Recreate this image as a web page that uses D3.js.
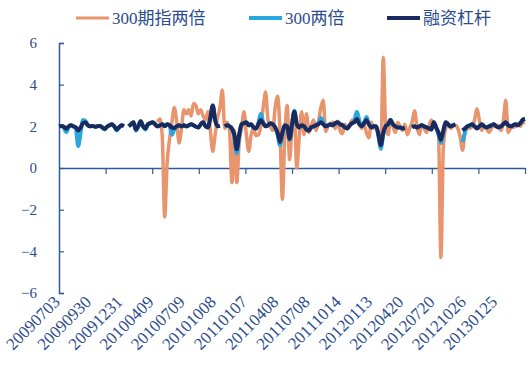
<!DOCTYPE html>
<html><head><meta charset="utf-8">
<script src="https://cdn.jsdelivr.net/npm/d3@7"></script>
<style>
html,body{margin:0;padding:0;background:#fff;}
svg{display:block;}
</style></head>
<body>
<svg id="chart" width="531" height="369"></svg>
<script>
// ---- data ----
const seriesNames = ["300期指两倍", "300两倍", "融资杠杆"];
const tickLabels = ["20090703","20090930","20091231","20100409","20100709","20101008","20110107","20110408","20110708","20111014","20120113","20120420","20120720","20121026","20130125"];
const yTicks = [-6, -4, -2, 0, 2, 4, 6];

const futures2x = [
null,null,null,null,null,null,null,null,null,null,null,null,null,
null,null,null,null,null,null,null,null,null,null,null,null,null,
null,null,null,null,null,null,null,null,null,null,null,null,null,
null,null,2.2,2.35,1.5,-2.35,0.2,1.35,2.2,2.9,2.2,1.2,1.9,
2.8,2.6,2.8,2.5,3.1,3.0,2.6,2.8,2.5,2.3,2.7,1.8,0.8,
1.6,2.4,2.9,3.75,1.9,2.2,1.8,-0.7,1.8,-0.7,1.2,1.9,2.7,
1.6,0.8,1.6,1.9,1.55,1.6,2.0,2.9,3.65,2.3,2.0,1.8,2.9,
3.45,1.8,-1.5,1.5,3.0,0.4,1.9,2.5,0.0,1.5,2.7,1.6,2.6,
1.7,2.0,2.3,1.8,2.2,2.9,3.25,1.75,2.0,2.1,2.2,1.9,2.25,
1.8,1.65,2.1,1.9,2.0,2.3,2.2,2.5,2.2,1.9,2.1,1.7,1.45,
2.2,1.9,2.0,1.6,0.9,5.3,2.0,1.6,2.3,2.0,1.7,2.2,2.0,
1.8,2.1,1.6,1.9,2.2,2.75,2.0,1.6,2.1,1.9,1.7,2.0,2.3,
2.1,1.9,1.6,-4.3,1.0,1.9,2.1,1.9,2.0,2.05,1.9,1.5,0.85,
1.7,2.0,1.9,2.0,2.3,2.85,2.3,1.8,2.0,1.9,1.7,1.9,2.1,
2.0,2.05,1.8,2.3,3.25,1.7,1.9,1.95,2.0,2.1,2.0,2.15,2.2
];

const etf2x = [
2.0,2.02,1.95,1.72,1.95,2.05,2.0,1.9,1.05,1.7,2.3,2.25,2.05,
2.0,2.02,1.98,2.0,2.02,1.95,1.85,1.98,2.05,2.1,2.0,1.8,1.95,
2.05,2.0,null,2.0,2.1,2.2,1.8,2.0,2.25,2.0,1.85,2.1,2.15,
2.2,2.1,2.0,2.05,2.1,2.0,2.1,2.05,1.6,1.85,2.0,2.05,2.0,
2.05,2.0,2.05,2.1,2.05,1.98,1.95,2.1,2.2,2.0,1.95,2.4,3.0,
2.3,2.0,2.02,null,2.0,2.05,2.0,1.85,1.5,0.7,1.5,2.1,2.15,
2.2,2.05,2.1,1.95,1.9,2.15,2.6,2.2,2.0,2.05,2.15,2.1,1.95,
1.6,1.1,1.6,2.05,2.0,1.35,2.1,2.75,2.1,1.95,2.05,2.0,1.85,
1.8,1.95,2.0,2.05,2.15,2.4,2.2,2.0,2.05,2.1,2.05,2.15,2.2,
2.1,2.05,1.95,1.9,2.05,2.15,2.3,2.7,2.3,2.0,2.15,2.45,2.1,
1.95,2.0,2.0,1.5,0.95,1.6,2.0,2.1,2.3,2.1,2.0,1.95,1.95,
1.9,1.92,null,null,1.95,2.0,1.95,2.0,2.05,2.0,1.95,1.9,1.85,
2.2,1.95,1.6,1.2,1.7,2.2,2.1,2.0,2.05,2.1,null,null,1.25,
1.7,2.0,2.05,2.1,2.0,1.9,2.0,2.1,2.0,1.95,2.0,2.05,2.1,
2.0,1.95,2.0,2.1,2.2,2.05,2.0,2.05,2.1,2.05,2.15,2.3,2.35
];

const margin = [
2.0,2.02,1.98,1.88,2.0,2.05,2.0,1.95,1.8,1.95,2.15,2.2,2.05,
2.0,2.02,1.98,2.0,2.02,1.95,1.88,1.98,2.05,2.1,2.0,1.85,1.95,
2.05,2.0,null,2.0,2.1,2.2,1.85,2.0,2.25,2.0,1.9,2.1,2.15,
2.2,2.1,2.0,2.05,2.1,2.0,2.1,2.05,1.95,1.92,2.0,2.05,2.0,
2.05,2.0,2.05,2.1,2.05,1.98,1.95,2.1,2.2,2.0,1.95,2.4,3.0,
2.3,2.0,2.02,null,2.0,2.05,2.0,1.9,1.6,0.9,1.6,2.1,2.15,
2.2,2.05,2.1,1.95,1.9,2.1,2.3,2.15,2.0,2.05,2.15,2.1,1.95,
1.7,1.25,1.7,2.05,2.0,1.4,2.1,2.7,2.1,1.95,2.05,2.0,1.85,
1.8,1.95,2.0,2.05,2.1,2.2,2.1,2.0,2.05,2.1,2.05,2.15,2.2,
2.1,2.05,1.95,1.9,2.05,2.15,2.2,2.35,2.1,2.0,2.15,2.3,2.1,
1.95,2.0,2.0,1.6,1.1,1.7,2.0,2.1,2.3,2.1,2.0,1.95,1.95,
1.9,1.92,null,null,1.95,2.0,1.95,2.0,2.05,2.0,1.95,1.9,1.85,
2.2,1.95,1.7,1.35,1.8,2.2,2.1,2.0,2.05,2.1,null,null,1.8,
1.9,2.0,2.05,2.1,2.0,1.9,2.0,2.1,2.0,1.95,2.0,2.05,2.1,
2.0,1.95,2.0,2.1,2.2,2.05,2.0,2.05,2.1,2.05,2.15,2.3,2.35
];

const labelEvery = 13;
const xTickCount = 10;
const colors = ["#E8946C", "#2AA7DF", "#1B2A5E"];

// ---- chart ----
const svg = d3.select("#chart");
const N = margin.length;
const x = d3.scaleLinear().domain([0, N - 1]).range([59, 525]);
const y = d3.scaleLinear().domain([-6, 6]).range([293, 43]);
const axisColor = "#2E5A9A";
const textColor = "#2B4C8C";
const serif = "'Liberation Serif','DejaVu Serif',serif";

// y axis
const gy = svg.append("g").attr("transform", `translate(${x(0)},0)`)
  .call(d3.axisLeft(y).tickValues(yTicks).tickSize(-5).tickPadding(22).tickFormat(d3.format("d")));
gy.select(".domain").attr("stroke", axisColor).attr("stroke-width", 1.5);
gy.selectAll(".tick line").attr("stroke", axisColor).attr("stroke-width", 1.2);
gy.selectAll("text").attr("fill", textColor).attr("font-family", serif).attr("font-size", 15);

// x axis at zero
const tickPos = d3.range(1, xTickCount + 1).map(k => k * (N - 1) / xTickCount);
const gx = svg.append("g").attr("transform", `translate(0,${y(0)})`)
  .call(d3.axisBottom(x).tickValues(tickPos).tickSize(6).tickSizeOuter(0).tickFormat(""));
gx.select(".domain").attr("stroke", axisColor).attr("stroke-width", 1.5);
gx.selectAll(".tick line").attr("stroke", axisColor).attr("stroke-width", 1.2);

// x labels at bottom
svg.append("g").selectAll("text").data(tickLabels).join("text")
  .attr("transform", (d, i) => `translate(${x(i * labelEvery) + 2},${y(-6) + 10}) rotate(-45)`)
  .attr("text-anchor", "end")
  .attr("font-family", serif).attr("font-size", 17).attr("fill", textColor)
  .text(d => d);

// lines
const line = d3.line().defined(d => d != null).x((d, i) => x(i)).y(d => y(d)).curve(d3.curveMonotoneX);
const data = [futures2x, etf2x, margin];
const widths = [3.5, 4, 4];
data.forEach((s, k) => {
  svg.append("path").datum(s).attr("d", line).attr("fill", "none")
    .attr("stroke", colors[k]).attr("stroke-width", widths[k]).attr("stroke-linejoin", "round");
});

// legend
const legX = [76, 249, 387];
const lg = svg.append("g");
seriesNames.forEach((n, k) => {
  lg.append("line").attr("x1", legX[k]).attr("x2", legX[k] + 33).attr("y1", 18).attr("y2", 18)
    .attr("stroke", colors[k]).attr("stroke-width", k === 0 ? 3 : 4);
  lg.append("text").attr("x", legX[k] + 36).attr("y", 24)
    .attr("font-family", "'Liberation Serif','Noto Sans CJK SC',serif").attr("font-size", 17)
    .attr("fill", textColor).text(n);
});
</script>
</body></html>
